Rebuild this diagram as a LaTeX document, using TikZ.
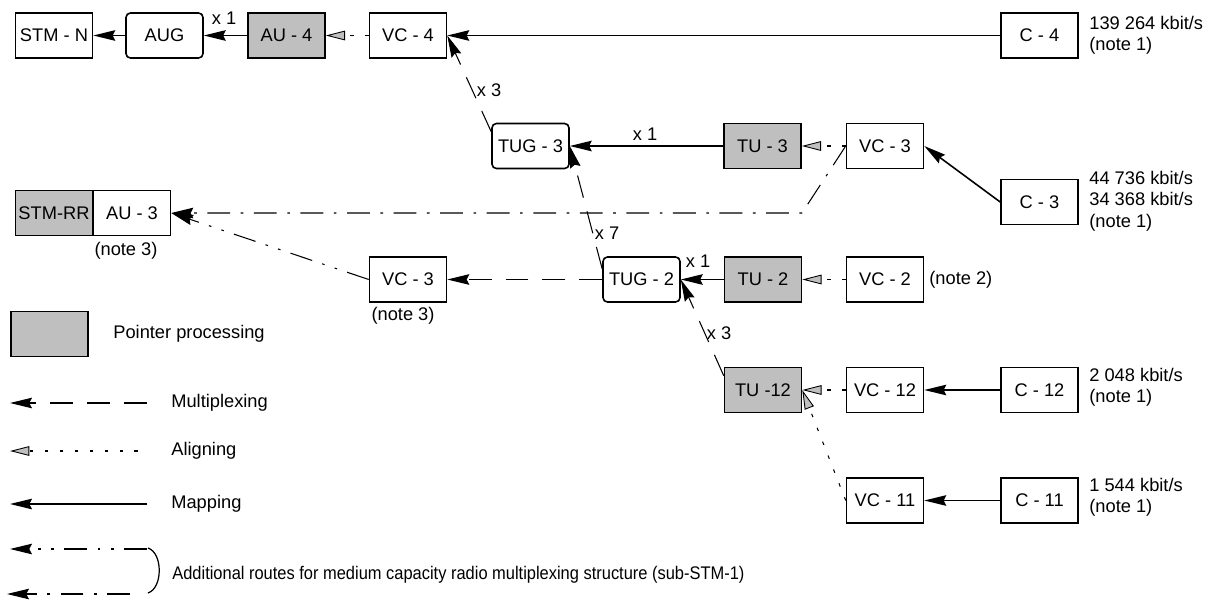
\documentclass[tikz,border=0pt]{standalone}
\usepackage{fontspec}
\setmainfont{Liberation Sans}
\usetikzlibrary{arrows.meta}

\begin{document}
\begin{tikzpicture}[x=0.02cm,y=-0.02cm,font=\fontsize{10.4}{12.2}\selectfont,
  blok/.style={draw,line width=0.9pt,minimum width=1.54cm,minimum height=0.9cm,inner sep=1pt},
  grijs/.style={blok,fill=gray!50},
  groep/.style={blok,rounded corners=2.5pt},
  mapping/.style={line width=0.9pt,-{Stealth[length=12.5pt,width=6pt,inset=1.5pt]}},
  mux/.style={line width=0.6pt,dash pattern=on 13pt off 8pt,-{Stealth[length=12.5pt,width=6pt,inset=1.5pt]}},
  aligning/.style={line width=0.6pt,dash pattern=on 2pt off 6.5pt,-{Triangle[length=11pt,width=5.5pt,fill=gray!50,line width=0.5pt]}},
  route/.style={line width=0.6pt,dash pattern=on 13pt off 6pt on 1.5pt off 6pt,-{Stealth[length=12.5pt,width=6pt,inset=1.5pt]}},
  routetwo/.style={line width=0.6pt,dash pattern=on 13pt off 6pt on 1.5pt off 6pt on 1.5pt off 6pt,-{Stealth[length=12.5pt,width=6pt,inset=1.5pt]}},
  tekst/.style={anchor=west,align=left,inner sep=0pt}]
\useasboundingbox (0,0) rectangle (1208,599);
\node [blok] (stmn) at (54,35.5){STM - N};
\node [groep] (aug) at (164.5,35.5){AUG};
\node [grijs] (au4) at (286.5,35.5){AU - 4};
\node [blok] (vc4) at (408,35.5){VC - 4};
\node [blok] (c4) at (1039.5,35.5){C - 4};
\node [groep] (tug3) at (530.5,146){TUG - 3};
\node [grijs] (tu3) at (762.5,146){TU - 3};
\node [blok] (vc3a) at (885,146){VC - 3};
\node [blok] (c3) at (1039.5,202){C - 3};
\node [grijs] (stmrr) at (54,213){STM-RR};
\node [blok] (au3) at (132,213){AU - 3};
\node [blok] (vc3b) at (408,279.5){VC - 3};
\node [groep] (tug2) at (641.5,279.5){TUG - 2};
\node [grijs] (tu2) at (763,279.5){TU - 2};
\node [blok] (vc2) at (885,279.5){VC - 2};
\node [grijs] (tu12) at (763,390){TU -12};
\node [blok] (vc12) at (885,390){VC - 12};
\node [blok] (c12) at (1039.5,390){C - 12};
\node [blok] (vc11) at (885,500.5){VC - 11};
\node [blok] (c11) at (1039.5,500.5){C - 11};
\node [tekst] (r4) at (1089,35){139 264 kbit/s\\ (note 1)};
\node [tekst] (r3) at (1089,201){44 736 kbit/s\\34 368 kbit/s\\(note 1)};
\node [tekst] (r12) at (1089,387){2 048 kbit/s\\(note 1)};
\node [tekst] (r11) at (1089,497){1 544 kbit/s\\(note 1)};
\node [tekst] (n2) at (929,280){(note 2)};
\node (n3a) at (126,251){(note 3)};
\node (n3b) at (403,316){(note 3)};
\node (k1) at (224,18){x 1};
\node (k2) at (489,90){x 3};
\node (k3) at (645,134){x 1};
\node (k4) at (607,233){x 7};
\node (k5) at (698,261){x 1};
\node (k6) at (719,333){x 3};
\coordinate (knik) at (802,213);
\draw[mapping] (aug) -- (stmn);
\draw[mapping] (au4) -- (aug);
\draw[aligning] (vc4) -- (au4);
\draw[mapping] (c4) -- (vc4);
\draw[mux] (tug3.160) -- (vc4.east);
\draw[mapping] (tu3) -- (tug3);
\draw[aligning] (vc3a) -- (tu3);
\draw[mapping] (c3.west) -- (vc3a.east);
\draw[mux] (tug2.165) -- (tug3.east);
\draw[mapping] (tu2) -- (tug2);
\draw[aligning] (vc2) -- (tu2);
\draw[mux] (tug2) -- (vc3b);
\draw[mux] (tu12.160) -- (tug2.east);
\draw[aligning] (vc12) -- (tu12);
\draw[aligning] (vc11.west) -- (tu12.east);
\draw[mapping] (c12) -- (vc12);
\draw[mapping] (c11) -- (vc11);
\draw[route] (vc3a.west) -- (knik) -- (au3.east);
\draw[routetwo] (vc3b.west) -- (au3.east);
\node [grijs] (lgrijs) at (49.5,334){};
\node [tekst] (lpp) at (113,334){Pointer processing};
\coordinate (lm1) at (10,403);
\coordinate (lm2) at (147,403);
\coordinate (la1) at (10,451);
\coordinate (la2) at (138,451);
\coordinate (lk1) at (10,504);
\coordinate (lk2) at (147,504);
\coordinate (lr1) at (10,549);
\coordinate (lr2) at (147,549);
\coordinate (ls1) at (7,594);
\coordinate (ls2) at (130,594);
\draw[mux] (lm2) -- (lm1);
\draw[aligning] (la2) -- (la1);
\draw[mapping] (lk2) -- (lk1);
\draw[routetwo] (lr2) -- (lr1);
\draw[route] (ls2) -- (ls1);
\draw[line width=0.7pt] (148,548) .. controls (163,553) and (163,588) .. (148,593);
\node [tekst] (lm) at (171,403){Multiplexing};
\node [tekst] (la) at (171,451){Aligning};
\node [tekst] (lk) at (171,504){Mapping};
\node [tekst] (lr) at (172,575){\scalebox{0.9}[1]{Additional routes for medium capacity radio multiplexing structure (sub-STM-1)}};
\end{tikzpicture}
\end{document}
